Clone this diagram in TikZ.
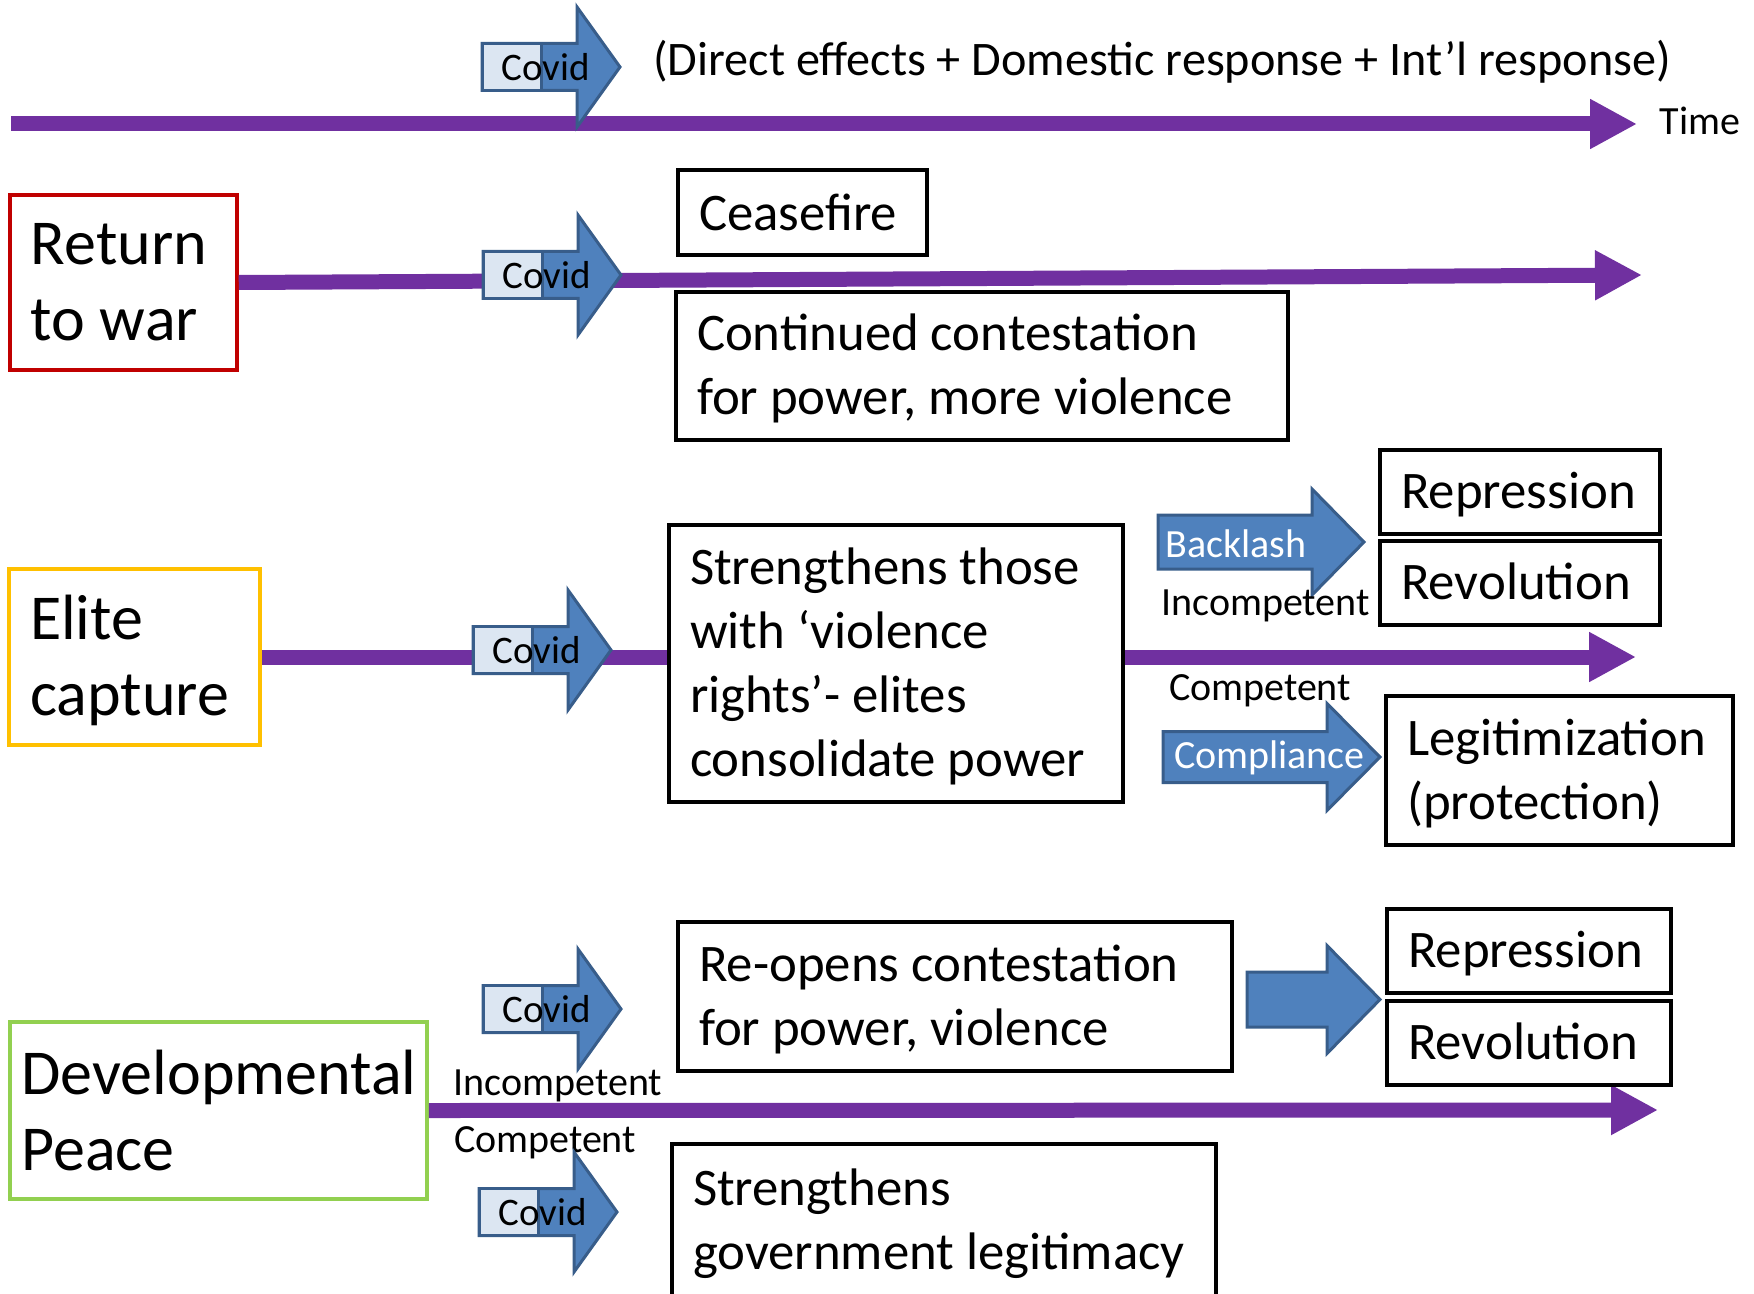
\documentclass[tikz,border=0pt]{standalone}
\usepackage{fontspec}
\setmainfont{Carlito}
\usetikzlibrary{arrows.meta}
\definecolor{purp}{HTML}{7030A0}
\definecolor{arrowfill}{HTML}{4F81BD}
\definecolor{arrowedge}{HTML}{385D8A}
\definecolor{lightblue}{HTML}{DCE6F2}
\definecolor{redbox}{HTML}{C00000}
\definecolor{orangebox}{HTML}{FFC000}
\definecolor{greenbox}{HTML}{92D050}
\newcommand\fsBig{\fontsize{32}{38}\selectfont}
\newcommand\fsMed{\fontsize{26.4}{32}\selectfont}
\newcommand\fsTop{\fontsize{24.1}{29}\selectfont}
\newcommand\fsSmall{\fontsize{20}{24}\selectfont}
\newcommand\fsCovid{\fontsize{19.5}{23}\selectfont}
\newcommand\ts{\rule{0pt}{0.97em}}
\newcommand\bs{\rule[-0.33em]{0pt}{0pt}}
\tikzset{
  box/.style={draw=black, line width=1.75pt, align=flush left, inner xsep=10.5pt, inner ysep=0pt, font=\fsMed},
  bigbox/.style={box, font=\fsBig},
  tl/.style={draw=purp, line width=7.5pt, -{Triangle[length=23.5pt,width=23.5pt]}},
  pl/.style={draw=purp, line width=7.5pt},
  barrow/.style={draw=arrowedge, fill=arrowfill, line width=1.5pt},
  lbl/.style={font=\fsSmall, inner sep=0pt},
  pics/blockarrow/.style n args={4}{code={
    \draw[barrow] (0,-#2) -- (#1,-#2) -- (#1,-#4) -- ({#1+#3},0) -- (#1,#4) -- (#1,#2) -- (0,#2) -- cycle;
  }},
  pics/covidarrow/.style={code={
    \draw[barrow] (0,-23.5) -- (95,-23.5) -- (95,-60) -- (138,0) -- (95,60) -- (95,23.5) -- (0,23.5) -- cycle;
    \draw[barrow, fill=lightblue] (0,-23.5) rectangle (59,23.5);
    \node[font=\fsCovid, inner sep=0pt] (-txt) at (63.5,0) {Covid};
  }},
}
\begin{document}
\begin{tikzpicture}[x=0.5pt,y=-0.5pt]
\useasboundingbox (0,0) rectangle (1754,1294);
\clip (0,0) rectangle (1754,1294);

% ---------- top time line ----------
\coordinate (t0) at (11,124);
\coordinate (t1) at (1637,124);
\draw[tl] (t0) -- (t1);
\node[font=\fsSmall, inner sep=0pt] (time) at (1700,121) {Time};
\node[font=\fsTop, inner sep=0pt] (toptext) at (1162,61.5) {(Direct effects + Domestic response + Int’l response)};
\pic (cv0) at (482,67) {covidarrow};

% ---------- row 1: return to war ----------
\node[bigbox, draw=redbox, minimum width=113.5pt, minimum height=87.5pt, text width=92.5pt] (ret) at (123.5,282.5) {\ts Return\\to war\bs};
\node[box, minimum width=124.5pt, minimum height=42.5pt, text width=103.5pt] (cease) at (802.5,212.5) {Ceasefire};
\node[box, minimum width=306pt, minimum height=74pt, text width=285pt] (cont) at (982,366) {\ts Continued contestation\\for power, more violence\bs};
\coordinate (r1end) at (1642,275);
\draw[tl] (ret.east) -- (r1end);
\pic (cv1) at (483,275) {covidarrow};

% ---------- row 2: elite capture ----------
\node[bigbox, draw=orangebox, minimum width=125.5pt, minimum height=88pt, text width=104.5pt] (elite) at (134.5,657) {\ts Elite\\capture\bs};
\node[box, minimum width=227pt, minimum height=138.5pt, text width=206pt] (str) at (896,663.5) {\ts Strengthens those\\with ‘violence\\rights’- elites\\consolidate power\bs};
\coordinate (e2end) at (1636,657);
\draw[pl] (elite.east) -- (elite.east -| str.west);
\draw[tl] (str.east |- e2end) -- (e2end);
\pic (cv2) at (473,650) {covidarrow};

\node[box, minimum width=140pt, minimum height=42pt, text width=119pt] (rep1) at (1520,492) {\ts Repression\bs};
\node[box, minimum width=140pt, minimum height=42pt, text width=119pt] (rev1) at (1520,583) {\ts Revolution\bs};
\node[box, minimum width=173.5pt, minimum height=74.5pt, text width=152.5pt] (legit) at (1559.5,770.5) {\ts Legitimization\\(protection)\bs};

\pic (backarrow) at (1158,542) {blockarrow={154}{27}{52}{53}};
\node[lbl, text=white] (backlash) at (1236,544) {Backlash};
\pic (comparrow) at (1163,757) {blockarrow={164}{25.5}{53}{53.5}};
\node[lbl, text=white] (compliance) at (1269.5,758) {Compliance};
\node[lbl] (incomp2) at (1265.5,605.5) {Incompetent};
\node[lbl] (comp2) at (1260,690.5) {Competent};

% ---------- row 3: developmental peace ----------
\node[bigbox, draw=greenbox, inner xsep=5.75pt, minimum width=208.5pt, minimum height=88.5pt, text width=197pt] (dev) at (218.5,1110.5) {Developmental\\Peace};
\coordinate (d3end) at (1658,1110);
\draw[tl] (dev.east) -- (d3end);
\node[lbl] (incomp3) at (558,1085.5) {Incompetent};
\node[lbl] (comp3) at (545,1142.5) {Competent};

\node[box, minimum width=277pt, minimum height=74.5pt, text width=256pt] (reopen) at (955,996.5) {\ts Re-opens contestation\\for power, violence\bs};
\node[box, minimum width=272pt, minimum height=76.5pt, text width=251pt] (gov) at (944,1220.5) {\ts Strengthens\\government legitimacy\bs};
\node[box, minimum width=142pt, minimum height=42pt, text width=121pt] (rep2) at (1529,951) {\ts Repression\bs};
\node[box, minimum width=142pt, minimum height=42pt, text width=121pt] (rev2) at (1529,1043) {\ts Revolution\bs};

\pic (bigarrow) at (1247,999.5) {blockarrow={80}{27.5}{53}{54}};
\pic (cv3) at (483,1009) {covidarrow};
\pic (cv4) at (479,1212) {covidarrow};
\end{tikzpicture}
\end{document}
